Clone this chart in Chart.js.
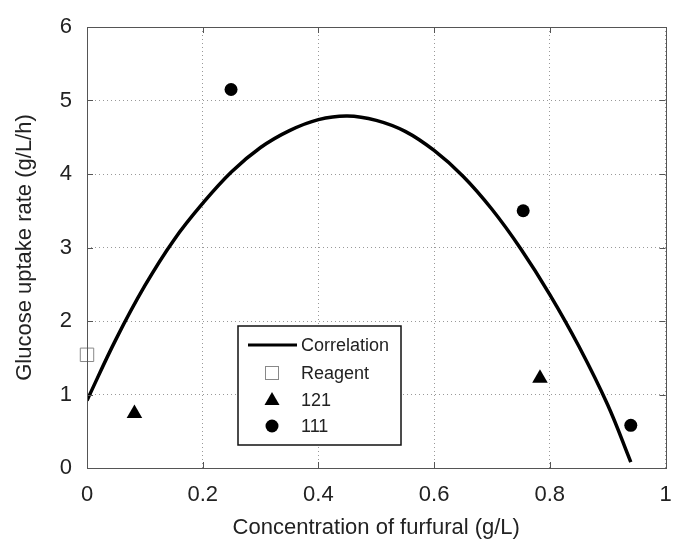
<!DOCTYPE html>
<html>
<head>
<meta charset="utf-8">
<script src="https://cdn.jsdelivr.net/npm/chart.js@4"></script>
<style>
  html, body { margin: 0; padding: 0; background: #fff; }
  #graf { display: block; }
</style>
</head>
<body>
<canvas id="graf" width="676" height="543"></canvas>
<script>
// curva de correlacao
const curvaX = [0, 0.05, 0.1, 0.15, 0.2, 0.25, 0.3, 0.35, 0.4, 0.45, 0.5, 0.55, 0.6, 0.65, 0.7, 0.75, 0.8, 0.85, 0.9, 0.94];
const curvaY = [0.92, 1.75, 2.48, 3.1, 3.6, 4.03, 4.36, 4.59, 4.74, 4.79, 4.73, 4.58, 4.32, 3.97, 3.52, 2.98, 2.36, 1.66, 0.86, 0.08];

// pontos medidos
const reagenteX = [0];
const reagenteY = [1.54];
const s121X = [0.082, 0.783];
const s121Y = [0.74, 1.22];
const s111X = [0.249, 0.754, 0.94];
const s111Y = [5.15, 3.5, 0.58];

const ticksX = [0, 0.2, 0.4, 0.6, 0.8, 1];
const ticksY = [0, 1, 2, 3, 4, 5, 6];

const legenda = ["Correlation", "Reagent", "121", "111"];

const pares = (xs, ys) => xs.map((x, i) => ({ x: x, y: ys[i] }));

const fonte = "'Liberation Sans', Arial, sans-serif";

// caixa do grafico, ticks internos e legenda
const moldura = {
  id: "moldura",
  afterDatasetsDraw(chart) {
    const { ctx, chartArea: a, scales } = chart;
    ctx.save();
    ctx.strokeStyle = "#555";
    ctx.lineWidth = 1;
    ctx.beginPath();
    ticksX.forEach(v => {
      const px = Math.round(scales.x.getPixelForValue(v)) + 0.5;
      ctx.moveTo(px, a.bottom); ctx.lineTo(px, a.bottom - 6);
      ctx.moveTo(px, a.top); ctx.lineTo(px, a.top + 6);
    });
    ticksY.forEach(v => {
      const py = Math.round(scales.y.getPixelForValue(v)) + 0.5;
      ctx.moveTo(a.left, py); ctx.lineTo(a.left + 6, py);
      ctx.moveTo(a.right, py); ctx.lineTo(a.right - 6, py);
    });
    ctx.stroke();
    ctx.strokeRect(Math.round(a.left) + 0.5, Math.round(a.top) + 0.5,
      Math.round(a.right - a.left), Math.round(a.bottom - a.top));

    // legenda
    const lx = 238, ly = 326, lw = 163, lh = 119;
    ctx.fillStyle = "#fff";
    ctx.fillRect(lx, ly, lw, lh);
    ctx.strokeStyle = "#111";
    ctx.lineWidth = 1.5;
    ctx.strokeRect(lx, ly, lw, lh);

    const mx = 272, tx = 301;
    const linhas = [345, 373, 400, 426];
    ctx.strokeStyle = "#000";
    ctx.lineWidth = 3;
    ctx.beginPath();
    ctx.moveTo(248, linhas[0]); ctx.lineTo(297, linhas[0]);
    ctx.stroke();

    ctx.fillStyle = "#fff";
    ctx.strokeStyle = "#888";
    ctx.lineWidth = 1;
    ctx.fillRect(mx - 6.5, linhas[1] - 6.5, 13, 13);
    ctx.strokeRect(mx - 6.5, linhas[1] - 6.5, 13, 13);

    ctx.fillStyle = "#000";
    ctx.beginPath();
    ctx.moveTo(mx, linhas[2] - 8);
    ctx.lineTo(mx + 7.5, linhas[2] + 5);
    ctx.lineTo(mx - 7.5, linhas[2] + 5);
    ctx.closePath();
    ctx.fill();

    ctx.beginPath();
    ctx.arc(mx, linhas[3], 6.5, 0, Math.PI * 2);
    ctx.fill();

    ctx.fillStyle = "#222";
    ctx.font = "18px " + fonte;
    ctx.textBaseline = "middle";
    ctx.textAlign = "left";
    legenda.forEach((t, i) => ctx.fillText(t, tx, linhas[i] + 1));
    ctx.restore();
  }
};

const grafico = new Chart(document.getElementById("graf"), {
  type: "scatter",
  data: {
    datasets: [
      {
        type: "line",
        label: legenda[0],
        data: pares(curvaX, curvaY),
        borderColor: "#000",
        borderWidth: 3.5,
        pointRadius: 0,
        fill: false,
        tension: 0.4
      },
      {
        label: legenda[1],
        data: pares(reagenteX, reagenteY),
        pointStyle: "rect",
        pointRadius: 9.5,
        backgroundColor: "#fff",
        borderColor: "#888",
        borderWidth: 1,
        clip: false
      },
      {
        label: legenda[2],
        data: pares(s121X, s121Y),
        pointStyle: "triangle",
        pointRadius: 9,
        backgroundColor: "#000",
        borderColor: "#000",
        borderWidth: 0
      },
      {
        label: legenda[3],
        data: pares(s111X, s111Y),
        pointStyle: "circle",
        pointRadius: 6.5,
        backgroundColor: "#000",
        borderColor: "#000",
        borderWidth: 0
      }
    ]
  },
  options: {
    responsive: false,
    animation: false,
    layout: { padding: { left: 8, top: 27, right: 6, bottom: 0 } },
    plugins: {
      legend: { display: false },
      tooltip: { enabled: false }
    },
    scales: {
      x: {
        type: "linear",
        min: 0,
        max: 1,
        afterFit: s => { s.height = 75; s.paddingLeft = 0; s.paddingRight = 0; },
        afterBuildTicks: s => { s.ticks = ticksX.map(v => ({ value: v })); },
        grid: { color: "#999", lineWidth: 1, drawTicks: false },
        border: { display: false, dash: [1, 3] },
        ticks: {
          padding: 14,
          color: "#222",
          font: { family: fonte, size: 22 },
          callback: v => String(v)
        },
        title: {
          display: true,
          text: "Concentration of furfural (g/L)",
          color: "#222",
          font: { family: fonte, size: 22 },
          padding: { top: 0, bottom: 2 }
        }
      },
      y: {
        type: "linear",
        min: 0,
        max: 6,
        afterFit: s => { s.width = 79; s.paddingTop = 0; s.paddingBottom = 0; },
        afterBuildTicks: s => { s.ticks = ticksY.map(v => ({ value: v })); },
        grid: { color: "#999", lineWidth: 1, drawTicks: false },
        border: { display: false, dash: [1, 3] },
        ticks: {
          padding: 15,
          color: "#222",
          font: { family: fonte, size: 22 },
          callback: v => String(v)
        },
        title: {
          display: true,
          text: "Glucose uptake rate (g/L/h)",
          color: "#222",
          font: { family: fonte, size: 22 },
          padding: { top: 4, bottom: 0 }
        }
      }
    }
  },
  plugins: [moldura]
});
</script>
</body>
</html>
